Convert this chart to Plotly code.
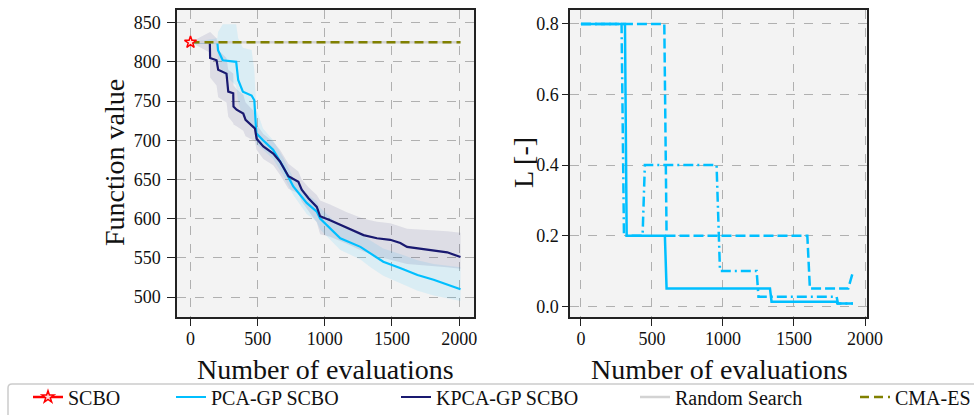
import plotly.graph_objects as go

# ---------------- data ----------------
# Left panel: function value vs number of evaluations
scbo_x = [0]
scbo_y = [825]

pca_x = [0, 200, 205, 240, 340, 355, 390, 455, 475, 490, 540, 615, 690, 765, 865, 940, 965, 1040, 1115, 1265, 1340, 1435, 1560, 1690, 1810, 2010]
pca_mean = [825, 825, 815, 802, 800, 777, 762, 757, 751, 709, 700, 688, 666, 641, 620, 609, 600, 588, 575, 564, 556, 545, 537, 528, 522, 510]
pca_upper = [825, 830, 838, 848, 848, 830, 818, 815, 790, 740, 715, 700, 678, 652, 632, 622, 614, 602, 590, 580, 572, 562, 555, 547, 542, 538]
pca_lower = [825, 822, 800, 785, 770, 748, 730, 722, 712, 695, 688, 676, 655, 630, 606, 596, 586, 573, 560, 548, 538, 527, 518, 508, 502, 495]

kpca_x = [0, 144, 146, 194, 206, 268, 281, 318, 320, 343, 393, 410, 467, 480, 492, 542, 616, 666, 729, 803, 828, 878, 940, 965, 1039, 1164, 1288, 1388, 1487, 1562, 1612, 1911, 2010]
kpca_mean = [825, 825, 805, 802, 790, 785, 762, 760, 743, 739, 734, 726, 717, 715, 702, 692, 683, 673, 654, 647, 637, 626, 615, 603, 598, 588, 579, 575, 573, 569, 564, 557, 551]
kpca_upper = [825, 838, 838, 830, 815, 805, 790, 785, 770, 765, 758, 748, 738, 730, 720, 708, 698, 688, 670, 660, 650, 640, 630, 623, 618, 608, 600, 596, 594, 590, 587, 584, 582]
kpca_lower = [825, 812, 780, 770, 755, 748, 730, 722, 720, 718, 712, 705, 700, 698, 688, 676, 668, 656, 638, 632, 622, 610, 595, 580, 577, 568, 558, 552, 548, 545, 542, 538, 536]

random_x = [0, 2010]
random_y = [825, 825]

cma_x = [0, 2010]
cma_y = [825, 825]

# Right panel: trust-region length L vs number of evaluations
l_solid_x = [0, 310, 322, 591, 603, 1331, 1342, 1800, 1805, 1915]
l_solid_y = [0.8, 0.8, 0.2, 0.2, 0.05, 0.05, 0.013, 0.013, 0.008, 0.008]

l_dashdot_x = [0, 286, 303, 434, 450, 955, 979, 1237, 1250, 1800, 1810, 1915]
l_dashdot_y = [0.8, 0.8, 0.2, 0.2, 0.4, 0.4, 0.1, 0.1, 0.027, 0.027, 0.008, 0.008]

l_dashed_x = [0, 587, 603, 1594, 1612, 1882, 1917]
l_dashed_y = [0.8, 0.8, 0.2, 0.2, 0.05, 0.05, 0.1]

left_yticks = [500, 550, 600, 650, 700, 750, 800, 850]
xticks = [0, 500, 1000, 1500, 2000]
right_yticks = [0.0, 0.2, 0.4, 0.6, 0.8]

# ---------------- style ----------------
W, H = 974, 415
FONT = "Liberation Serif"
C_PCA = "#00BFFF"
C_KPCA = "#191970"
C_CMA = "#808000"
C_RAND = "#d3d3d3"
BG = "#f3f3f3"

fig = go.Figure()

# bands
fig.add_trace(go.Scatter(x=pca_x, y=pca_lower, mode="lines", line=dict(width=0),
                         showlegend=False, hoverinfo="skip", xaxis="x", yaxis="y"))
fig.add_trace(go.Scatter(x=pca_x, y=pca_upper, mode="lines", line=dict(width=0), fill="tonexty",
                         fillcolor="rgba(0,191,255,0.10)", showlegend=False, hoverinfo="skip",
                         xaxis="x", yaxis="y"))
fig.add_trace(go.Scatter(x=kpca_x, y=kpca_lower, mode="lines", line=dict(width=0),
                         showlegend=False, hoverinfo="skip", xaxis="x", yaxis="y"))
fig.add_trace(go.Scatter(x=kpca_x, y=kpca_upper, mode="lines", line=dict(width=0), fill="tonexty",
                         fillcolor="rgba(25,25,112,0.10)", showlegend=False, hoverinfo="skip",
                         xaxis="x", yaxis="y"))

# lines
fig.add_trace(go.Scatter(x=pca_x, y=pca_mean, mode="lines", name="PCA-GP SCBO",
                         line=dict(color=C_PCA, width=2.2), legend="legend2"))
fig.add_trace(go.Scatter(x=kpca_x, y=kpca_mean, mode="lines", name="KPCA-GP SCBO",
                         line=dict(color=C_KPCA, width=2.2), legend="legend3"))
fig.add_trace(go.Scatter(x=random_x, y=random_y, mode="lines", name="Random Search",
                         line=dict(color=C_RAND, width=2.5), legend="legend4"))
fig.add_trace(go.Scatter(x=cma_x, y=cma_y, mode="lines", name="CMA-ES",
                         line=dict(color=C_CMA, width=2.5, dash="9px,5px"), legend="legend5"))
fig.add_trace(go.Scatter(x=scbo_x, y=scbo_y, mode="lines+markers", name="SCBO",
                         line=dict(color="red", width=2.5),
                         marker=dict(symbol="star", size=9, color="#ffdddd",
                                     line=dict(color="red", width=1.5)),
                         legend="legend"))

# right panel
fig.add_trace(go.Scatter(x=l_solid_x, y=l_solid_y, mode="lines", showlegend=False,
                         line=dict(color=C_PCA, width=2.5), xaxis="x2", yaxis="y2"))
fig.add_trace(go.Scatter(x=l_dashed_x, y=l_dashed_y, mode="lines", showlegend=False,
                         line=dict(color=C_PCA, width=2.5, dash="10px,4px"), xaxis="x2", yaxis="y2"))
fig.add_trace(go.Scatter(x=l_dashdot_x, y=l_dashdot_y, mode="lines", showlegend=False,
                         line=dict(color=C_PCA, width=2.5, dash="10px,4px,2px,4px"), xaxis="x2", yaxis="y2"))

def px_x(p):
    return p / W

def px_y(p):
    return 1 - p / H

axis_common = dict(
    showline=True, mirror=True, linecolor="#222222", linewidth=1.5,
    ticks="outside", tickwidth=1.2, tickcolor="#222222",
    showgrid=True, gridcolor="#b0b0b0", griddash="dash", gridwidth=1,
    zeroline=False, tickfont=dict(family=FONT, size=18, color="#111111"),
)

fig.update_layout(
    width=W, height=H,
    margin=dict(l=0, r=0, t=0, b=0, autoexpand=False),
    paper_bgcolor="white", plot_bgcolor=BG,
    xaxis=dict(domain=[px_x(177), px_x(474)], range=[-100.5, 2110.5], tickvals=xticks,
               anchor="y", ticklen=7, ticklabelstandoff=-2, **axis_common),
    yaxis=dict(domain=[px_y(317), px_y(9.5)], range=[474.5, 866.8], tickvals=left_yticks,
               anchor="x", ticklen=8, ticklabelstandoff=3, **axis_common),
    xaxis2=dict(domain=[px_x(570), px_x(866.7)], range=[-77, 2012], tickvals=xticks,
                anchor="y2", ticklen=7, ticklabelstandoff=-2, **axis_common),
    yaxis2=dict(domain=[px_y(317), px_y(9.5)], range=[-0.0305, 0.841], tickvals=right_yticks,
                tickformat=".1f", anchor="x2", ticklen=6, ticklabelstandoff=0, **axis_common),
    font=dict(family=FONT, color="#111111"),
)

# axis titles
TS = 28
ann = []
ann.append(dict(text="Function value", x=px_x(114), y=px_y(163), xref="paper", yref="paper",
                textangle=-90, showarrow=False, font=dict(family=FONT, size=TS),
                xanchor="center", yanchor="middle"))
ann.append(dict(text="Number of evaluations", x=px_x(325), y=px_y(369), xref="paper", yref="paper",
                showarrow=False, font=dict(family=FONT, size=TS), xanchor="center", yanchor="middle"))
ann.append(dict(text="Number of evaluations", x=px_x(719), y=px_y(369), xref="paper", yref="paper",
                showarrow=False, font=dict(family=FONT, size=TS), xanchor="center", yanchor="middle"))
ann.append(dict(text="L [-]", x=px_x(523), y=px_y(163), xref="paper", yref="paper",
                textangle=-90, showarrow=False, font=dict(family=FONT, size=TS),
                xanchor="center", yanchor="middle"))
fig.update_layout(annotations=ann)

# legends: one per entry so each sits at its own place
leg_text_x = [69, 212, 437, 676, 896]
leg_names = ["legend", "legend2", "legend3", "legend4", "legend5"]
for name, tx in zip(leg_names, leg_text_x):
    fig.update_layout({name: dict(
        x=px_x(tx - 41), y=px_y(397), xref="paper", yref="paper",
        xanchor="left", yanchor="middle", orientation="h",
        bgcolor="rgba(0,0,0,0)", borderwidth=0,
        font=dict(family=FONT, size=20, color="#111111"),
    )})

# legend frame
r = 4
fig.add_shape(type="path", xref="paper", yref="paper",
              path=f"M {px_x(8)},{px_y(420)} L {px_x(8)},{px_y(384 + r)} Q {px_x(8)},{px_y(384)} {px_x(8 + r)},{px_y(384)} L {px_x(990)},{px_y(384)}",
              line=dict(color="#cccccc", width=1.5))

fig.write_html(
    "out.html",
    config={"displayModeBar": False},
    post_script="document.body.style.margin='0';document.body.style.overflow='hidden';",
)
